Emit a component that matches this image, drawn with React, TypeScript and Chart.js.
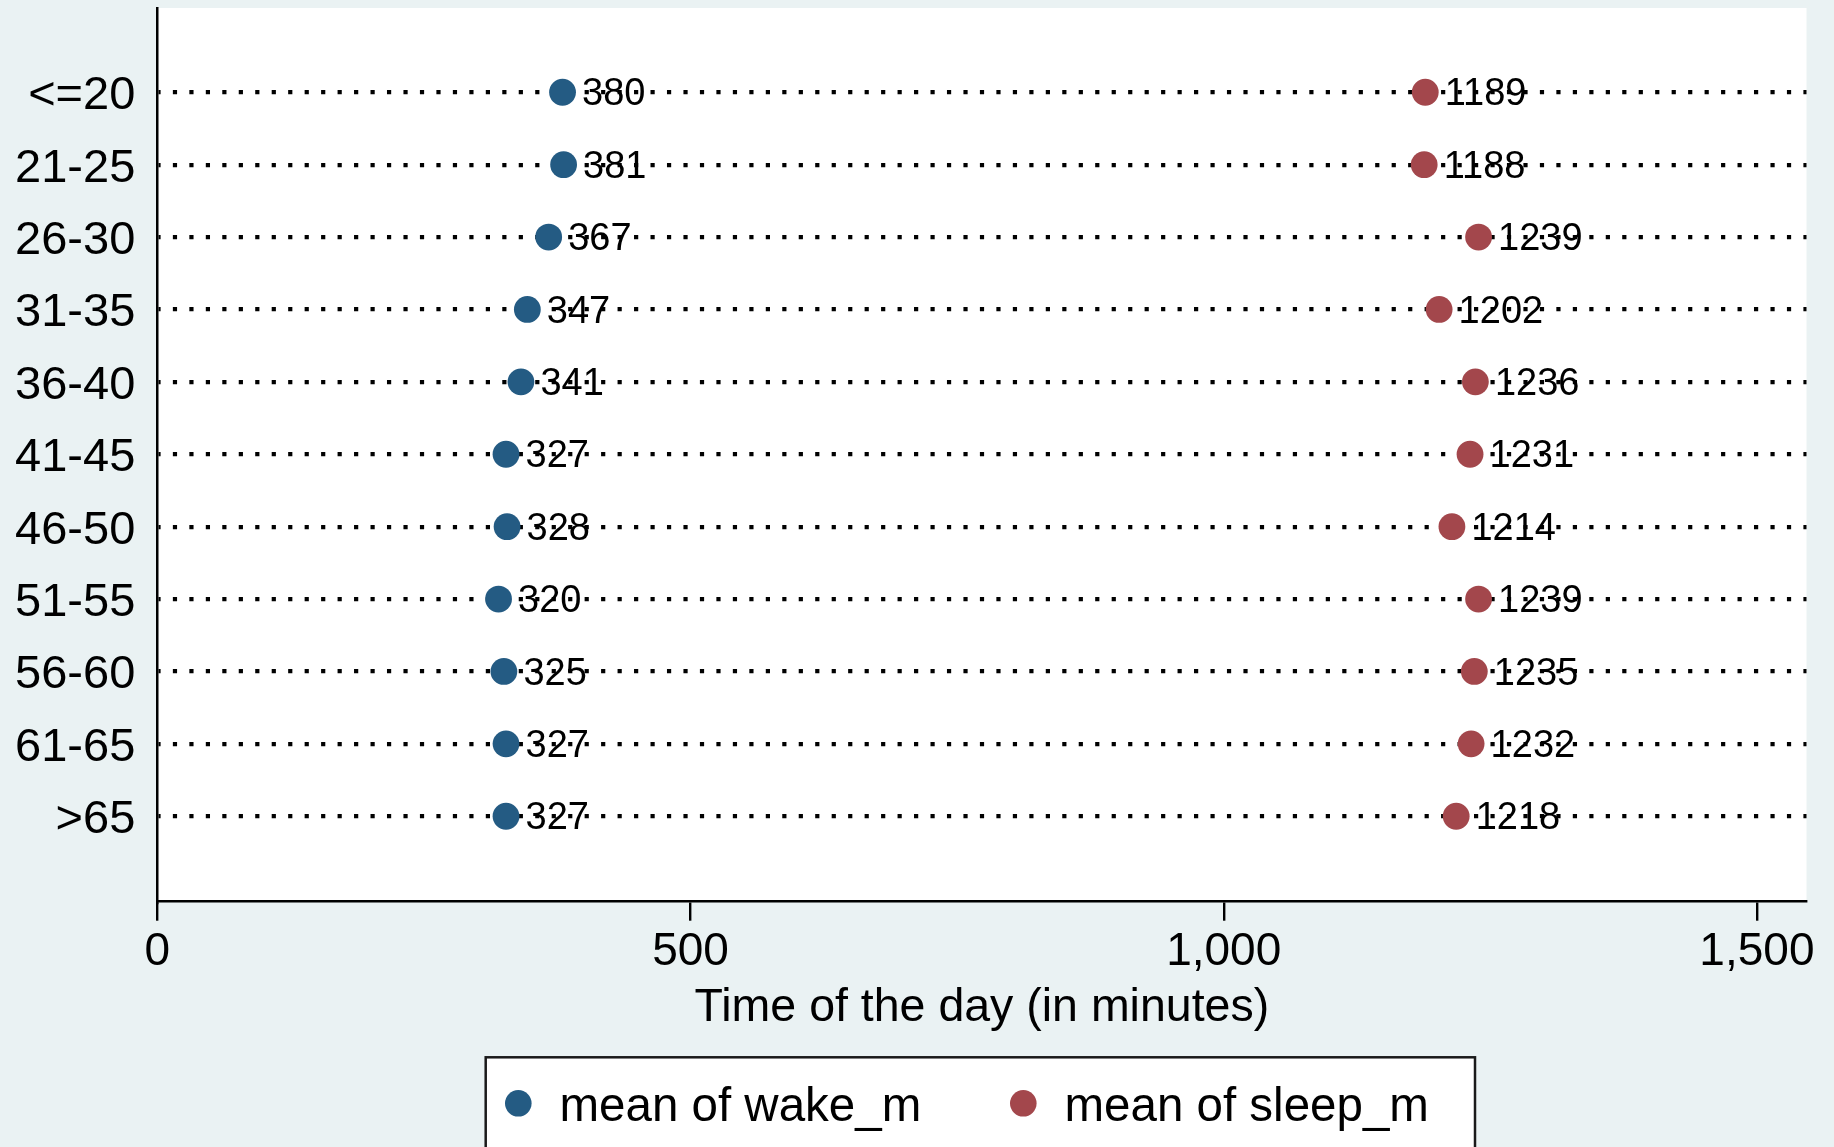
import React, { useEffect, useRef } from 'react';
import { Chart, registerables } from 'chart.js';

Chart.register(...registerables);

// ---- data ----
const ageGroups = ['<=20', '21-25', '26-30', '31-35', '36-40', '41-45', '46-50', '51-55', '56-60', '61-65', '>65'];
const wakeMean = [380, 381, 367, 347, 341, 327, 328, 320, 325, 327, 327];
const sleepMean = [1189, 1188, 1239, 1202, 1236, 1231, 1214, 1239, 1235, 1232, 1218];
const xTickValues = [0, 500, 1000, 1500];
const seriesLabels = ['mean of wake_m', 'mean of sleep_m'];
const seriesColors = ['#245B83', '#A3474C'];
const xAxisTitle = 'Time of the day (in minutes)';

const W = 1834;
const H = 1147;
const FONT = '"Liberation Sans", Arial, Helvetica, sans-serif';

const plotBackground = {
  id: 'plotBackground',
  beforeDraw(chart: any) {
    const { ctx, chartArea } = chart;
    ctx.save();
    ctx.fillStyle = '#FFFFFF';
    ctx.fillRect(chartArea.left, chartArea.top, chartArea.right - chartArea.left, chartArea.bottom - chartArea.top);
    ctx.restore();
  },
};

const valueLabels = {
  id: 'valueLabels',
  afterDatasetsDraw(chart: any) {
    const { ctx } = chart;
    ctx.save();
    ctx.font = `38px ${FONT}`;
    ctx.fillStyle = '#000';
    ctx.textAlign = 'left';
    ctx.textBaseline = 'middle';
    chart.data.datasets.forEach((ds: any, i: number) => {
      const meta = chart.getDatasetMeta(i);
      meta.data.forEach((pt: any, j: number) => {
        ctx.fillText(String(ds.data[j].x), pt.x + 19.5, pt.y + 2.6);
      });
    });
    ctx.restore();
  },
};

const boxedLegend = {
  id: 'boxedLegend',
  afterDraw(chart: any) {
    const { ctx } = chart;
    ctx.save();
    const left = 485.7;
    const right = 1475;
    const top = 1057.3;
    ctx.fillStyle = '#FFFFFF';
    ctx.fillRect(left, top, right - left, H - top + 20);
    ctx.strokeStyle = '#1a1a1a';
    ctx.lineWidth = 2.5;
    ctx.strokeRect(left, top, right - left, H - top + 20);
    const markerX = [518.3, 1023.3];
    const textX = [559.5, 1064.5];
    const cy = 1103.3;
    ctx.font = `47.5px ${FONT}`;
    ctx.textAlign = 'left';
    ctx.textBaseline = 'middle';
    chart.data.datasets.forEach((ds: any, i: number) => {
      ctx.fillStyle = ds.backgroundColor;
      ctx.beginPath();
      ctx.arc(markerX[i], cy, 13.3, 0, Math.PI * 2);
      ctx.fill();
      ctx.fillStyle = '#000';
      ctx.fillText(ds.label, textX[i], cy + 4.5);
    });
    ctx.restore();
  },
};

export default function App() {
  const canvasRef = useRef<HTMLCanvasElement | null>(null);

  useEffect(() => {
    const canvas = canvasRef.current;
    if (!canvas) return;
    Chart.defaults.font.family = FONT;
    const mk = (vals: number[]) => ageGroups.map((_, i) => ({ x: vals[i], y: i }));
    const chart = new Chart(canvas, {
      type: 'scatter',
      data: {
        datasets: [
          {
            label: seriesLabels[0],
            data: mk(wakeMean),
            backgroundColor: seriesColors[0],
            borderColor: seriesColors[0],
            pointRadius: 13.4,
            pointHoverRadius: 13.4,
            pointBorderWidth: 0,
            showLine: false,
          },
          {
            label: seriesLabels[1],
            data: mk(sleepMean),
            backgroundColor: seriesColors[1],
            borderColor: seriesColors[1],
            pointRadius: 13.4,
            pointHoverRadius: 13.4,
            pointBorderWidth: 0,
            showLine: false,
          },
        ],
      },
      options: {
        animation: false,
        responsive: false,
        devicePixelRatio: 1,
        layout: { autoPadding: false, padding: { top: 8, right: W - 1806.5, bottom: 0, left: 0 } },
        plugins: {
          legend: { display: false },
          tooltip: { enabled: false },
        },
        scales: {
          x: {
            type: 'linear',
            position: 'bottom',
            min: 0,
            max: 1546.5,
            afterBuildTicks: (s: any) => {
              s.ticks = xTickValues.map((v) => ({ value: v }));
            },
            ticks: {
              callback: (v: any) => Number(v).toLocaleString('en-US'),
              font: { size: 46 },
              color: '#000',
              padding: 4,
              maxRotation: 0,
              autoSkip: false,
            },
            grid: {
              drawOnChartArea: false,
              drawTicks: true,
              tickLength: 19,
              color: '#000',
              lineWidth: 2.4,
            },
            border: { display: true, color: '#000', width: 2.5 },
            title: {
              display: true,
              text: xAxisTitle,
              font: { size: 46.5 },
              color: '#000',
              padding: { top: 0, bottom: 111 },
            },
            afterFit: (s: any) => {
              s.height = H - 901.7;
              s.paddingLeft = 0;
              s.paddingRight = 0;
            },
          },
          y: {
            type: 'linear',
            reverse: true,
            min: -1.164,
            max: 11.18,
            afterBuildTicks: (s: any) => {
              s.ticks = ageGroups.map((_, i) => ({ value: i }));
            },
            ticks: {
              callback: (v: any) => ageGroups[v] ?? '',
              font: { size: 47 },
              color: '#000',
              padding: 22,
              labelOffset: 4,
              autoSkip: false,
            },
            grid: {
              drawTicks: false,
              color: '#000',
              lineWidth: 4.2,
            },
            border: { display: true, color: '#000', width: 2.5, dash: [4.2, 12.27], dashOffset: 2.1 },
            afterFit: (s: any) => {
              s.width = 157.3;
              s.paddingTop = 0;
              s.paddingBottom = 0;
            },
          },
        },
      } as any,
      plugins: [plotBackground, valueLabels, boxedLegend],
    });
    return () => chart.destroy();
  }, []);

  return (
    <div style={{ position: 'absolute', left: 0, top: 0, width: W, height: H, background: '#EAF2F3', overflow: 'hidden' }}>
      <canvas ref={canvasRef} width={W} height={H} style={{ display: 'block' }} />
    </div>
  );
}
